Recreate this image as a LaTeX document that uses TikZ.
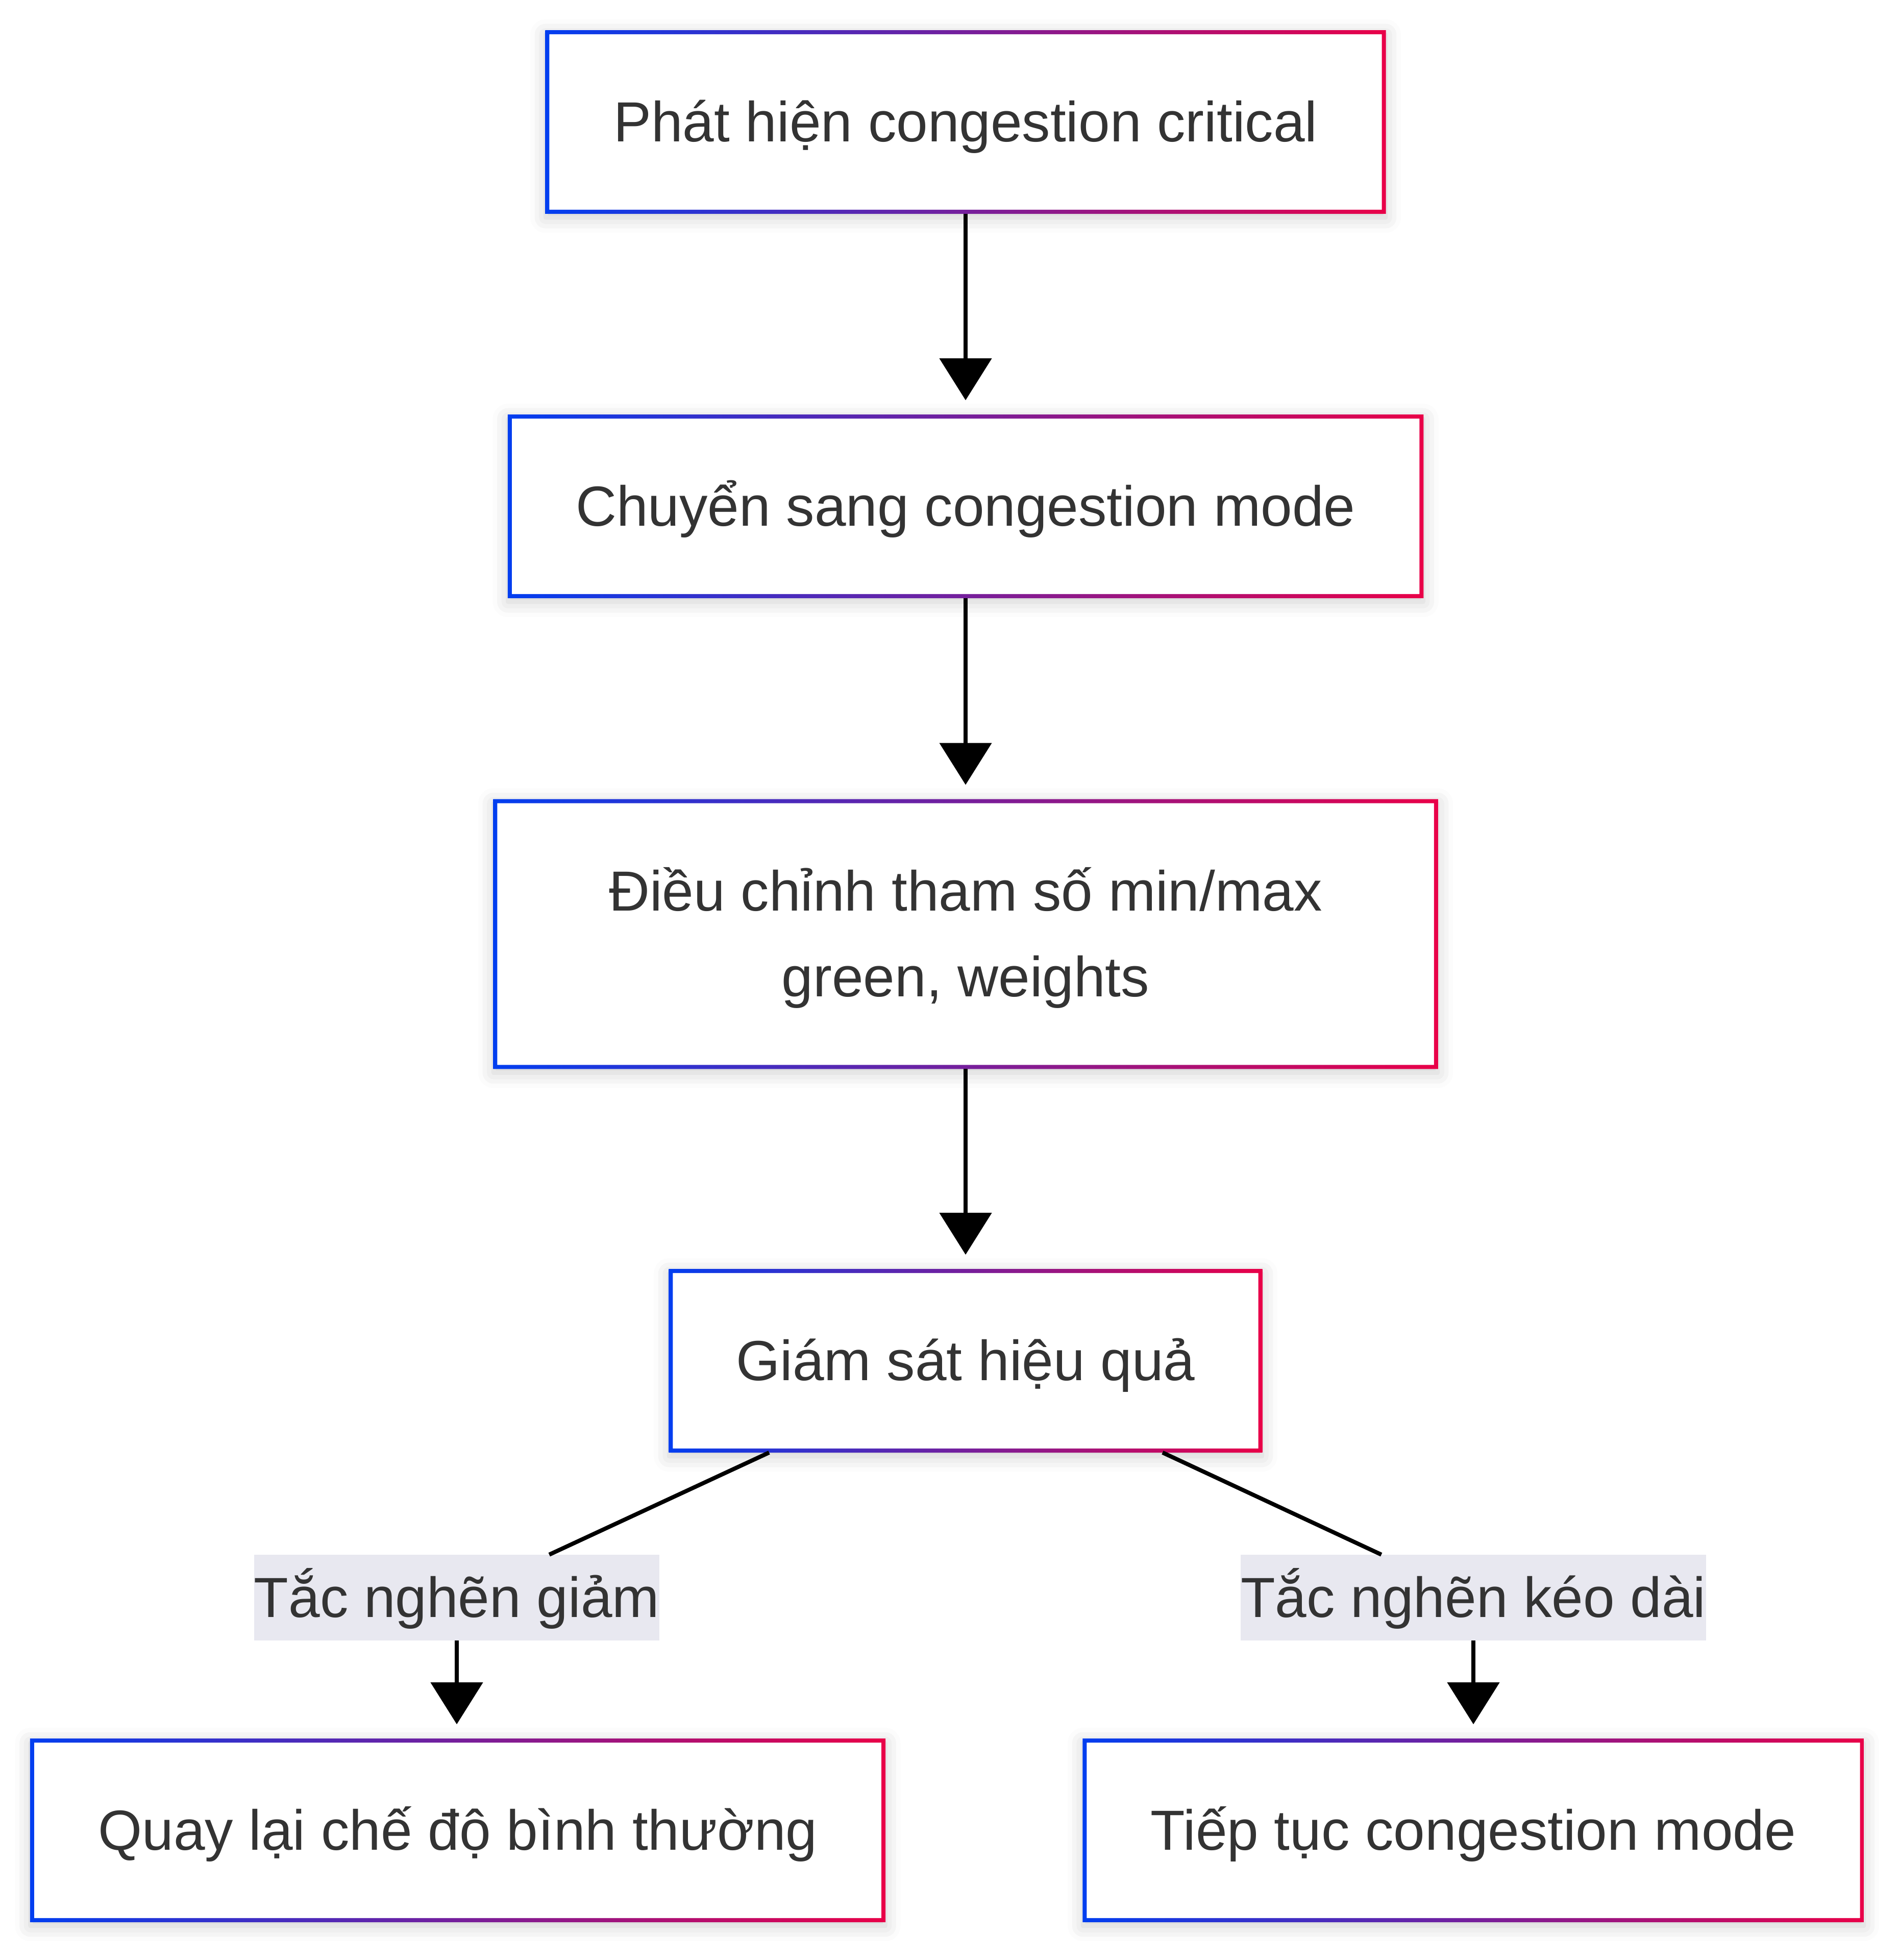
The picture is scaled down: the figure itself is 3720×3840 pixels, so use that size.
\documentclass[tikz,border=0pt]{standalone}
\usepackage{fontspec}
\setmainfont{Liberation Sans}
\usetikzlibrary{arrows.meta,calc,shadows.blur}
\definecolor{gblue}{RGB}{2,62,240}
\definecolor{gred}{RGB}{233,0,72}
\definecolor{txtgray}{RGB}{51,51,51}
\definecolor{lblbg}{RGB}{232,232,240}

\begin{document}
\begin{tikzpicture}[x=0.01cm, y=-0.01cm,
  box/.style={fill=white, minimum height=3.58cm, inner sep=0pt, text=txtgray,
    font=\fontsize{31.5pt}{47.8pt}\selectfont, text height=1.01cm, text depth=0.24cm,
    blur shadow={shadow xshift=0cm, shadow yshift=-0.08cm, shadow blur radius=0.3cm, shadow opacity=20}},
  lbl/.style={fill=lblbg, inner xsep=0pt, inner ysep=0.21cm, text=txtgray,
    font=\fontsize{31.5pt}{47.8pt}\selectfont, text height=1.01cm, text depth=0.24cm},
  arr/.style={line width=0.08cm, -{Triangle[width=1.01cm,length=0.82cm]}, shorten >=0.28cm},
  ln/.style={line width=0.08cm}]
\useasboundingbox (0,0) rectangle (3720,3840);

% boxes
\node[box, minimum width=16.45cm] (det) at (1892,239) {Phát hiện congestion critical};
\node[box, minimum width=17.92cm] (mode) at (1892,992) {Chuyển sang congestion mode};
\node[box, minimum width=18.49cm, minimum height=5.27cm, align=center,
  text height=2.69cm] (adj) at (1892,1830) {Điều chỉnh tham số min/max\\green, weights};
\node[box, minimum width=11.61cm] (mon) at (1892,2666) {Giám sát hiệu quả};
\node[box, minimum width=16.74cm] (back) at (897,3586) {Quay lại chế độ bình thường};
\node[box, minimum width=15.29cm] (cont) at (2887,3586) {Tiếp tục congestion mode};

% gradient borders
\foreach \n in {det,mode,adj,mon,back,cont}
  \shade[left color=gblue, right color=gred, even odd rule]
    (\n.south west) rectangle (\n.north east)
    ([shift={(8,-8)}]\n.south west) rectangle ([shift={(-8,8)}]\n.north east);

% edge labels
\node[lbl] (dec) at (895,3130) {Tắc nghẽn giảm};
\node[lbl] (inc) at (2887,3130) {Tắc nghẽn kéo dài};
\coordinate (m1) at ($(mon.south)+(-385,0)$);
\coordinate (m2) at ($(mon.south)+(386,0)$);

% connectors
\draw[arr] (det) -- (mode);
\draw[arr] (mode) -- (adj);
\draw[arr] (adj) -- (mon);
\draw[ln] (m1) -- (dec);
\draw[ln] (m2) -- (inc);
\draw[arr] (dec) -- (dec |- back.north);
\draw[arr] (inc) -- (inc |- cont.north);
\end{tikzpicture}
\end{document}
